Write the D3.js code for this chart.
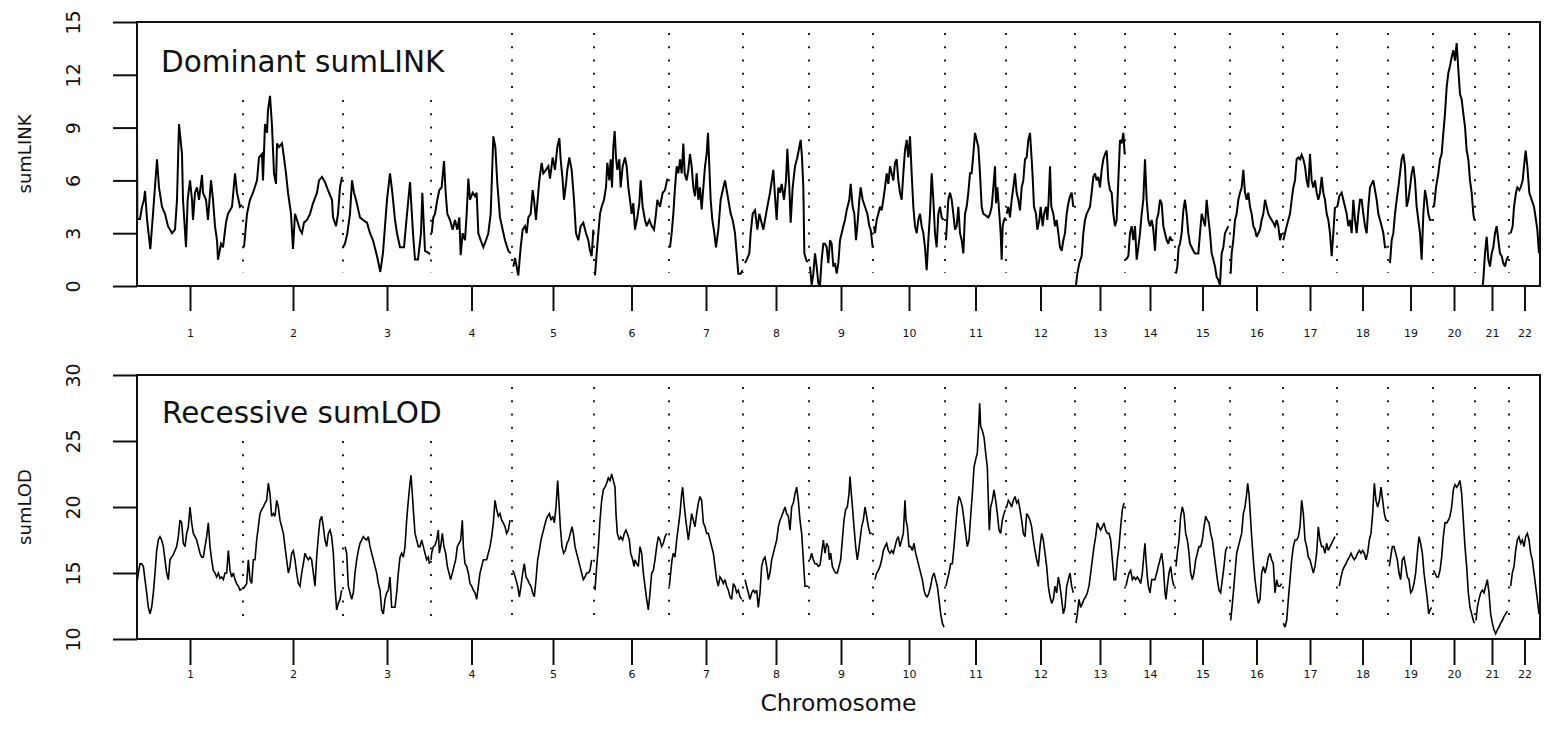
<!DOCTYPE html>
<html><head><meta charset="utf-8">
<script src="https://cdn.jsdelivr.net/npm/d3@7"></script>
<style>
body{margin:0;background:#fff}
svg{display:block}
text{font-family:"DejaVu Sans",sans-serif;fill:#111}
</style>
</head><body>
<svg id="chart" width="1545" height="729"></svg>
<script>
// ---------------- DATA ----------------
const chromosomes = ["1","2","3","4","5","6","7","8","9","10","11","12","13","14","15","16","17","18","19","20","21","22"];
// genetic length of each chromosome (cM)
const chrLengthsCM = [318,300,264,243,246,225,222,198,192,216,183,207,150,150,165,159,162,153,135,126,102,93];
const yTicksLINK = [0,3,6,9,12,15];
const yTicksLOD = [10,15,20,25,30];

// [position within chromosome (cM), sumLINK]
const dominantSumLINK = [
[[0,9.4],[1,3.8],[9,3.8],[15,4.5],[21,4.9],[24,5.4],[30,3.8],[40,2.1],[48,4.1],[60,7.2],[66,5.6],[75,4.5],[84,4.1],[93,3.4],[105,3.0],[114,3.2],[120,4.9],[126,9.2],[135,7.5],[138,4.9],[147,2.2],[152,4.9],[159,6.0],[165,4.9],[168,3.75],[174,5.3],[180,5.6],[186,4.9],[195,6.3],[198,5.3],[207,4.9],[213,3.75],[222,6.0],[228,4.9],[234,3.4],[240,2.6],[243,1.5],[252,2.4],[258,2.2],[267,3.6],[273,4.1],[285,4.5],[294,6.4],[300,5.3],[309,4.5],[315,4.6]],
[[3,2.2],[12,4.1],[21,4.9],[30,5.3],[42,6.0],[48,7.3],[57,7.5],[60,6.0],[66,9.2],[72,8.7],[75,10.0],[81,10.8],[87,9.1],[93,6.4],[99,5.8],[102,8.1],[108,7.9],[117,8.1],[123,7.3],[129,6.4],[135,5.3],[144,4.1],[150,2.1],[156,4.1],[162,3.75],[171,3.2],[177,3.0],[183,3.6],[192,3.75],[201,4.1],[210,4.7],[222,5.3],[228,6.0],[237,6.2],[246,5.9],[255,5.45],[267,4.9],[270,3.9],[279,3.4],[285,4.1],[291,5.6],[297,6.2]],
[[0,2.2],[6,2.4],[13,3.0],[21,4.1],[27,6.0],[33,5.3],[39,4.9],[51,3.9],[60,3.75],[72,3.6],[81,3.0],[90,2.6],[102,1.7],[112,0.8],[120,1.9],[126,3.4],[132,4.9],[141,6.4],[148,5.3],[156,3.75],[162,3.0],[171,2.2],[183,2.2],[192,4.1],[201,5.9],[210,3.0],[216,1.5],[225,1.5],[234,3.0],[238,5.3],[246,2.0],[255,1.9],[261,1.8]],
[[2,3.0],[7,3.9],[12,4.1],[19,4.9],[25,5.45],[32,5.6],[39,7.1],[44,5.3],[49,4.1],[57,3.75],[65,3.2],[72,3.75],[79,3.2],[85,3.9],[89,1.75],[95,3.0],[102,2.6],[107,4.1],[112,6.1],[117,4.9],[125,5.3],[132,5.1],[137,5.3],[142,3.0],[149,2.6],[157,2.2],[165,2.6],[172,3.0],[179,4.1],[187,8.5],[193,7.9],[199,5.8],[207,3.9],[215,3.2],[222,2.6],[232,2.0],[239,1.85]],
[[4,1.1],[9,1.6],[19,0.6],[26,2.2],[32,3.2],[39,3.4],[44,3.0],[49,3.9],[56,4.1],[62,5.45],[66,4.9],[72,3.75],[76,4.7],[82,6.0],[89,7.0],[94,6.4],[102,6.6],[109,6.8],[114,6.1],[122,7.3],[129,6.6],[136,7.9],[142,8.4],[146,7.2],[152,6.0],[156,4.9],[162,5.8],[166,6.6],[172,7.3],[179,6.6],[186,4.9],[192,3.0],[199,2.6],[206,3.4],[214,3.6],[222,3.0],[229,2.6],[234,2.0],[239,1.7],[244,3.2]],
[[3,0.6],[8,1.85],[13,3.0],[18,4.1],[23,4.5],[30,4.9],[36,5.6],[40,7.0],[46,6.0],[50,7.2],[54,5.6],[58,7.9],[62,8.8],[66,7.3],[70,6.6],[76,7.2],[80,5.6],[86,6.8],[93,7.3],[98,6.8],[103,5.6],[108,4.9],[113,4.1],[118,4.7],[123,3.2],[130,3.9],[136,4.7],[140,6.0],[146,4.5],[153,3.75],[158,3.4],[166,3.75],[173,3.4],[180,3.2],[186,4.1],[190,4.9],[198,4.5],[206,5.3],[213,5.45],[220,6.1]],
[[3,2.2],[8,3.0],[13,4.1],[18,5.6],[23,6.8],[28,6.4],[33,7.2],[38,6.4],[43,8.1],[47,6.4],[53,6.0],[58,6.6],[63,7.5],[68,6.8],[73,5.6],[78,5.1],[83,6.4],[88,4.9],[93,5.6],[98,4.35],[103,5.6],[108,6.8],[113,7.5],[117,8.7],[121,6.8],[125,4.9],[130,3.75],[136,3.0],[141,2.2],[148,3.2],[155,4.9],[163,5.6],[168,6.0],[173,5.45],[178,4.9],[185,4.1],[191,3.75],[198,3.0],[203,1.85],[208,0.7],[215,0.7],[221,0.9]],
[[6,1.3],[11,1.5],[19,1.85],[23,3.0],[29,4.1],[36,4.3],[43,3.2],[49,4.1],[61,3.2],[71,4.3],[81,5.3],[91,6.6],[96,5.1],[101,3.75],[106,5.6],[111,5.3],[116,5.8],[123,4.9],[129,6.0],[133,7.8],[139,5.6],[143,3.6],[149,5.6],[156,6.8],[163,7.3],[169,7.9],[173,8.3],[177,7.3],[181,5.6],[184,1.85],[191,1.4],[196,1.4]],
[[3,1.1],[8,0.05],[13,0.7],[18,1.85],[23,1.1],[28,0.15],[33,0.05],[38,1.5],[43,2.4],[48,2.4],[53,2.2],[58,1.3],[63,2.6],[68,2.4],[73,1.1],[78,1.3],[83,0.7],[88,1.3],[93,2.6],[98,3.0],[103,3.4],[108,3.75],[113,4.3],[121,4.9],[125,5.8],[131,4.5],[136,4.1],[141,2.6],[145,3.4],[151,4.9],[155,5.6],[161,4.9],[168,4.5],[175,4.1],[181,3.4],[185,3.2],[191,2.2]],
[[3,3.4],[6,3.0],[11,3.75],[16,4.1],[21,4.5],[26,4.3],[31,4.9],[36,5.6],[41,6.4],[46,5.8],[51,6.8],[56,6.4],[61,6.0],[66,7.0],[71,7.2],[76,6.0],[81,5.3],[86,4.9],[91,6.4],[96,7.7],[101,8.3],[106,7.3],[111,8.5],[116,6.4],[121,4.5],[126,3.4],[131,3.0],[136,3.75],[141,4.1],[146,3.4],[151,3.0],[156,2.2],[161,0.9],[166,2.6],[171,4.1],[176,6.4],[181,4.9],[186,3.0],[191,2.2],[196,4.1],[201,4.5],[206,3.9],[211,3.75]],
[[3,2.6],[10,4.9],[15,5.3],[20,4.9],[25,4.1],[30,3.2],[35,3.4],[40,4.5],[45,3.0],[50,2.6],[55,1.85],[60,4.1],[65,4.5],[70,5.3],[75,6.4],[80,6.4],[85,7.5],[90,8.7],[95,8.3],[100,7.9],[105,6.4],[110,4.5],[115,4.1],[123,4.0],[130,3.9],[135,4.1],[140,4.5],[145,5.6],[150,6.8],[153,4.7],[157,5.6],[163,4.1],[167,3.0],[170,1.5],[173,3.4],[177,3.75],[181,3.9]],
[[2,4.1],[7,4.5],[12,3.9],[17,4.9],[22,5.6],[27,6.4],[32,5.3],[37,4.9],[42,4.3],[47,5.6],[52,6.0],[57,7.2],[62,7.3],[67,8.3],[72,8.7],[77,7.2],[80,6.2],[84,4.5],[90,4.1],[94,3.2],[100,3.75],[104,4.5],[110,3.4],[114,4.1],[120,4.5],[124,3.75],[128,4.9],[132,6.8],[136,4.5],[142,4.1],[147,3.4],[152,3.75],[157,3.0],[162,2.2],[167,2.0],[172,2.6],[177,3.0],[182,4.1],[187,4.7],[192,5.1],[197,5.3],[202,4.5]],
[[3,0.05],[7,0.7],[13,1.3],[20,1.7],[25,3.0],[30,3.75],[35,4.1],[40,4.3],[45,4.5],[50,5.3],[55,6.2],[60,6.4],[65,6.0],[70,6.2],[75,5.6],[80,6.6],[85,7.2],[90,7.5],[95,7.7],[100,6.0],[105,5.45],[110,5.3],[115,4.1],[120,3.4],[125,3.75],[130,6.0],[135,8.3],[140,8.1],[145,8.7],[149,7.5]],
[[3,1.5],[10,1.7],[15,3.0],[20,3.4],[25,2.6],[30,3.4],[35,1.5],[40,2.2],[45,3.0],[50,4.1],[55,4.9],[60,7.2],[65,4.9],[70,3.75],[75,3.4],[80,3.75],[85,3.2],[90,2.0],[95,3.75],[100,4.1],[105,4.9],[110,4.7],[115,3.4],[120,3.0],[125,2.6],[130,2.4],[135,2.8],[140,2.6],[145,2.6]],
[[3,0.7],[7,1.1],[11,2.2],[15,2.4],[20,3.0],[25,4.3],[30,4.9],[35,4.1],[40,3.0],[45,2.4],[50,2.2],[55,2.0],[60,1.85],[65,1.85],[70,1.85],[75,3.0],[80,4.1],[85,3.75],[90,3.4],[95,4.9],[100,3.9],[105,3.0],[110,1.85],[115,1.5],[120,1.1],[125,0.5],[130,0.35],[135,0.05],[140,1.85],[145,2.2],[150,3.0],[155,3.2],[160,3.4]],
[[2,0.7],[5,1.85],[10,2.6],[15,3.75],[20,4.1],[25,4.9],[30,5.3],[35,5.6],[40,6.6],[45,5.3],[50,4.9],[55,5.3],[60,4.5],[65,4.1],[70,3.4],[75,3.2],[80,2.8],[85,3.0],[90,3.2],[95,3.75],[100,4.1],[105,4.9],[110,4.5],[115,4.1],[120,3.9],[125,3.75],[130,3.6],[135,3.4],[140,3.75],[145,3.4],[150,2.6],[155,3.0]],
[[1,2.6],[6,3.0],[11,3.4],[16,3.75],[21,4.1],[26,4.9],[31,5.6],[36,6.0],[41,7.2],[46,7.3],[51,7.2],[56,7.45],[61,7.2],[66,6.8],[71,6.0],[76,5.6],[81,7.5],[86,6.0],[91,5.6],[96,6.0],[101,5.3],[106,4.9],[111,5.3],[116,6.2],[121,5.3],[126,4.9],[131,4.1],[136,3.75],[141,3.0],[146,1.7],[151,3.0],[156,4.5]],
[[1,4.5],[7,5.1],[14,5.3],[19,4.9],[24,4.5],[29,4.1],[34,3.4],[39,3.75],[44,3.0],[49,4.9],[54,3.75],[59,3.0],[64,4.1],[69,4.9],[74,4.9],[79,4.1],[84,3.4],[89,3.0],[94,4.5],[99,5.6],[104,5.8],[109,6.0],[114,5.45],[119,4.9],[124,4.1],[129,3.75],[134,3.4],[139,3.0],[144,2.2],[149,2.2]],
[[6,1.3],[11,2.6],[16,3.0],[21,4.1],[26,4.9],[31,5.6],[36,6.4],[41,7.2],[46,7.5],[51,6.8],[56,4.5],[61,4.9],[66,5.6],[71,6.4],[76,6.8],[81,6.0],[86,4.5],[91,3.75],[96,3.0],[101,1.5],[106,4.1],[111,5.45],[116,4.9],[121,4.1],[126,3.75],[131,3.75]],
[[3,4.5],[9,5.6],[16,6.4],[21,7.2],[26,7.5],[31,8.7],[36,9.8],[41,11.3],[46,12.1],[51,12.5],[56,13.0],[61,13.4],[66,12.8],[71,13.8],[76,12.3],[81,10.9],[86,10.6],[91,9.8],[96,9.05],[101,7.7],[106,7.2],[111,6.0],[116,5.3],[121,4.1],[124,3.75]],
[[23,0.05],[25,0.35],[30,1.85],[35,2.8],[40,1.5],[45,1.1],[50,1.85],[55,2.2],[60,3.0],[65,3.4],[70,2.6],[75,1.85],[80,1.7],[85,1.3],[90,1.1],[95,1.5],[100,1.7]],
[[5,3.0],[11,3.4],[15,4.5],[21,5.3],[25,5.6],[31,5.45],[35,5.6],[41,6.0],[45,6.8],[50,7.7],[55,6.8],[61,5.3],[68,4.9],[75,4.5],[81,3.75],[85,3.2],[90,1.85]]
];

// [position within chromosome (cM), sumLOD]
const recessiveSumLOD = [
[[0,14.2],[4,15.0],[9,15.7],[14,15.7],[19,15.5],[24,14.5],[29,13.5],[34,12.4],[39,11.9],[44,12.4],[49,13.5],[54,15.0],[59,16.7],[64,17.5],[69,17.75],[74,17.5],[79,17.0],[84,16.0],[89,15.0],[94,14.5],[99,16.0],[104,16.2],[109,16.4],[114,16.7],[119,17.0],[124,17.75],[129,19.0],[134,18.8],[139,17.25],[144,17.0],[149,18.0],[154,18.5],[159,20.0],[164,18.8],[169,18.0],[174,17.75],[179,17.5],[184,17.0],[189,16.5],[194,16.2],[199,16.2],[204,17.0],[209,17.75],[214,18.8],[219,17.0],[224,16.0],[229,15.2],[234,15.0],[239,14.7],[244,15.0],[249,14.6],[254,14.7],[259,14.5],[264,15.0],[269,15.0],[274,16.7],[279,15.2],[284,14.7],[289,15.0],[294,14.5],[299,14.2],[304,14.0],[309,13.7],[314,13.8]],
[[1,13.8],[6,14.0],[11,14.2],[16,16.0],[21,14.5],[26,14.2],[31,16.0],[36,16.0],[41,17.5],[46,18.5],[51,19.5],[56,19.8],[61,20.0],[66,20.3],[71,20.5],[76,21.8],[81,21.0],[86,19.3],[91,19.5],[96,19.3],[101,20.5],[106,20.0],[111,19.0],[116,18.5],[121,18.0],[126,17.0],[131,16.0],[136,15.0],[141,15.5],[146,16.5],[151,16.7],[156,16.0],[161,15.0],[166,14.2],[171,14.0],[176,15.0],[181,15.7],[186,16.5],[191,16.2],[196,16.0],[201,16.2],[206,16.0],[211,15.0],[216,14.0],[221,16.2],[226,17.75],[231,19.0],[236,19.3],[241,18.5],[246,17.5],[251,17.0],[256,18.0],[261,18.25],[266,17.75],[271,16.5],[276,14.0],[281,12.2],[286,12.7],[291,13.0],[296,13.7]],
[[6,17.0],[11,16.5],[16,14.0],[21,13.5],[26,13.0],[31,13.5],[36,15.0],[41,16.0],[46,16.7],[51,17.25],[56,17.5],[61,17.75],[66,17.6],[71,17.5],[76,17.75],[81,17.0],[86,16.5],[91,16.0],[96,15.5],[101,15.0],[106,14.2],[111,13.7],[116,12.2],[121,11.9],[126,13.0],[131,13.5],[136,13.7],[141,14.7],[146,12.4],[151,12.4],[156,12.4],[161,13.5],[166,15.0],[171,16.2],[176,16.5],[181,16.2],[186,17.0],[191,19.0],[196,20.5],[201,21.8],[204,22.4],[208,21.0],[211,19.8],[216,18.0],[221,17.5],[226,17.0],[231,17.0],[236,17.5],[241,17.0],[246,16.5],[251,16.0],[256,16.2],[259,15.7]],
[[0,16.0],[2,16.5],[7,17.0],[12,17.1],[17,17.5],[22,18.25],[25,16.5],[29,17.0],[34,18.0],[39,17.0],[44,16.5],[49,15.5],[54,15.0],[59,14.5],[64,15.0],[69,15.5],[74,16.0],[79,17.0],[84,17.25],[89,17.5],[94,19.0],[97,17.0],[102,15.7],[107,15.5],[112,15.0],[117,14.2],[122,14.0],[127,13.7],[132,13.5],[137,13.0],[142,14.0],[147,15.0],[152,15.5],[157,16.0],[162,16.0],[167,16.0],[172,16.5],[177,17.0],[182,17.75],[187,18.8],[192,20.5],[197,19.8],[202,19.3],[207,19.5],[212,19.0],[217,18.8],[222,18.5],[227,18.0],[232,18.25],[237,19.0]],
[[2,15.2],[6,15.0],[12,14.5],[17,14.0],[22,13.2],[27,14.0],[32,15.0],[37,15.7],[42,14.7],[47,14.5],[52,14.2],[57,14.0],[62,13.5],[67,13.2],[72,14.5],[77,16.0],[82,16.7],[87,17.5],[92,18.0],[97,18.5],[102,19.0],[107,19.3],[112,19.5],[117,19.0],[122,19.3],[127,18.8],[132,20.0],[137,22.0],[141,20.3],[145,18.5],[150,17.0],[155,16.5],[160,16.7],[165,17.25],[170,17.5],[175,18.0],[180,18.5],[184,18.0],[189,17.0],[194,16.5],[199,16.0],[204,15.5],[209,15.0],[214,14.5],[219,14.7],[224,15.0],[229,15.0],[234,15.2],[239,16.0]],
[[3,13.7],[8,15.5],[13,17.0],[18,19.0],[23,20.5],[28,21.3],[33,21.5],[38,21.8],[43,22.2],[48,22.0],[53,22.5],[58,22.0],[63,21.5],[66,19.5],[70,18.0],[76,17.5],[80,17.75],[86,17.5],[91,18.0],[96,18.25],[100,18.0],[106,17.5],[110,16.5],[116,16.0],[120,15.5],[123,16.0],[128,15.7],[133,15.5],[138,17.0],[143,16.5],[148,15.0],[153,14.0],[158,13.0],[163,12.2],[168,13.5],[173,15.0],[178,15.2],[183,16.0],[188,17.0],[193,17.75],[198,17.5],[203,17.0],[208,17.25],[213,17.75],[218,18.0]],
[[1,14.0],[5,15.0],[9,16.0],[13,16.5],[18,16.2],[23,17.5],[28,18.5],[33,19.5],[38,21.0],[41,21.5],[45,20.3],[49,19.3],[53,18.5],[58,17.5],[63,18.5],[68,19.5],[73,19.0],[78,18.5],[83,19.5],[88,20.3],[93,20.8],[98,20.5],[103,18.8],[108,18.5],[113,18.0],[118,18.0],[123,17.5],[128,17.0],[133,16.5],[138,15.5],[143,14.5],[148,14.0],[153,14.7],[158,14.5],[163,14.2],[168,14.5],[173,14.0],[178,13.7],[183,13.2],[188,13.0],[193,14.2],[198,14.0],[203,13.5],[208,13.7],[213,13.2],[218,13.0]],
[[6,14.5],[11,14.0],[16,13.5],[21,13.0],[26,13.5],[31,13.7],[36,13.5],[41,13.7],[46,12.4],[51,13.5],[56,15.5],[61,16.0],[66,16.2],[71,15.5],[76,14.5],[81,15.0],[86,16.0],[91,16.5],[96,17.0],[101,17.5],[106,18.5],[111,19.0],[116,19.3],[126,20.0],[131,19.5],[136,19.3],[141,18.25],[146,20.0],[151,20.3],[156,21.0],[161,21.5],[166,20.5],[171,19.0],[176,18.0],[181,16.0],[186,14.0],[191,14.0],[196,14.0]],
[[3,16.0],[8,16.5],[13,16.0],[18,15.7],[23,15.7],[28,15.5],[33,15.6],[38,16.5],[43,17.5],[48,16.5],[53,17.25],[58,17.0],[61,16.0],[65,16.5],[70,15.5],[75,15.2],[80,15.0],[85,15.0],[90,15.5],[95,16.0],[100,17.5],[105,19.0],[110,19.8],[115,20.0],[120,21.0],[123,22.3],[127,21.0],[131,19.8],[135,18.5],[140,17.0],[145,16.0],[149,16.7],[153,17.5],[158,18.5],[163,19.0],[168,20.0],[173,19.3],[178,18.5],[183,18.0],[188,18.0]],
[[6,14.5],[11,15.0],[16,15.2],[21,15.5],[26,16.0],[31,16.7],[36,17.0],[41,17.25],[46,16.7],[51,16.5],[56,16.7],[61,16.5],[66,17.0],[71,17.5],[76,17.75],[81,17.0],[86,17.5],[91,18.0],[96,20.5],[99,19.0],[103,18.5],[108,17.0],[113,17.0],[118,16.7],[123,17.25],[128,16.5],[133,16.0],[138,15.5],[143,15.0],[148,14.5],[153,13.7],[158,13.3],[163,13.2],[168,13.5],[173,14.0],[178,14.7],[183,15.0],[188,14.5],[193,14.0],[198,13.0],[203,11.9],[208,11.2],[213,10.9]],
[[3,14.0],[7,14.5],[12,15.0],[17,15.7],[22,15.7],[27,17.0],[32,18.5],[37,20.0],[42,20.8],[47,20.5],[52,20.0],[57,19.0],[62,18.0],[67,17.0],[72,17.5],[77,19.3],[82,21.0],[87,23.0],[92,23.6],[97,24.1],[101,26.1],[104,27.85],[107,26.1],[112,25.8],[117,25.3],[122,24.1],[127,23.0],[130,20.5],[133,18.25],[137,20.0],[142,20.5],[147,21.3],[152,20.5],[157,19.5],[162,18.25],[167,18.0],[172,19.0],[177,19.5],[181,19.8]],
[[2,20.0],[7,20.5],[12,20.3],[17,20.0],[22,20.5],[27,20.8],[32,20.3],[37,20.5],[42,19.8],[47,19.0],[52,18.0],[57,17.75],[62,19.5],[67,19.3],[72,19.0],[77,18.5],[82,17.5],[87,16.7],[92,16.0],[97,15.5],[102,17.0],[107,18.0],[112,17.5],[117,16.5],[122,15.5],[127,14.0],[132,13.2],[137,12.7],[142,13.0],[147,14.0],[152,13.5],[157,14.7],[162,14.0],[167,13.0],[172,11.9],[177,12.4],[182,14.0],[187,14.5],[192,15.0],[197,14.0],[202,13.5]],
[[3,11.2],[7,11.9],[12,13.0],[17,12.4],[22,12.7],[27,13.0],[32,13.2],[37,13.5],[42,14.0],[47,15.0],[52,16.0],[57,17.0],[62,17.75],[67,18.8],[72,18.5],[77,18.25],[82,18.5],[87,18.8],[92,18.25],[97,18.0],[102,18.0],[107,17.5],[112,16.0],[117,14.5],[122,14.5],[127,16.0],[132,17.0],[137,18.5],[142,19.8],[147,20.3]],
[[3,14.0],[7,14.5],[12,15.0],[17,15.2],[22,14.5],[27,14.7],[32,14.5],[37,14.7],[42,14.5],[47,14.2],[52,15.0],[57,16.5],[60,17.25],[63,16.0],[67,14.7],[70,14.0],[75,13.5],[80,14.5],[85,14.5],[90,14.5],[95,15.0],[100,15.5],[105,16.0],[110,16.5],[115,15.5],[120,13.5],[123,13.0],[127,14.0],[132,15.0],[137,15.5],[142,14.5],[147,14.0]],
[[3,15.5],[7,16.5],[12,17.5],[17,19.3],[22,20.0],[27,19.5],[32,18.0],[37,17.5],[42,16.5],[47,15.0],[52,14.5],[57,15.0],[62,16.0],[67,16.5],[72,17.0],[77,17.0],[82,17.5],[87,18.5],[92,19.3],[97,19.0],[102,18.8],[107,18.0],[112,17.5],[117,16.5],[122,15.5],[127,14.5],[132,13.7],[137,13.5],[142,14.5],[147,15.5],[152,16.7],[157,17.0]],
[[2,11.4],[6,12.4],[10,13.5],[15,15.0],[20,16.5],[25,17.0],[30,17.5],[35,18.0],[40,19.5],[45,20.0],[50,21.0],[53,21.8],[57,21.0],[60,19.8],[65,17.75],[70,16.0],[75,14.5],[80,13.5],[85,12.7],[90,13.0],[95,15.0],[100,15.5],[105,15.0],[110,15.5],[115,16.2],[120,16.5],[125,16.0],[130,15.7],[135,13.5],[140,14.5],[145,14.0],[150,14.0],[155,14.2]],
[[1,11.2],[6,10.9],[11,11.4],[16,13.0],[21,14.5],[26,16.0],[31,17.0],[36,17.5],[41,17.5],[46,17.75],[51,18.5],[56,20.5],[61,19.5],[66,17.5],[71,17.0],[76,16.2],[81,16.0],[86,15.5],[91,15.0],[96,15.5],[101,16.5],[106,18.5],[111,17.5],[116,17.0],[121,17.0],[126,16.5],[131,17.25],[136,16.7],[141,17.0],[146,17.25],[151,17.5],[156,17.75]],
[[7,14.0],[12,14.7],[17,15.2],[22,15.5],[27,15.7],[32,16.0],[37,16.2],[42,16.5],[47,16.2],[52,16.0],[57,16.2],[62,16.5],[67,16.7],[72,16.5],[77,16.7],[82,16.5],[87,16.0],[92,16.5],[97,17.5],[102,18.0],[107,19.5],[112,21.8],[117,20.5],[122,20.0],[127,20.5],[132,21.5],[137,20.5],[142,19.5],[147,19.0],[151,19.0]],
[[4,15.5],[8,16.2],[13,17.0],[18,17.0],[23,16.5],[28,16.0],[33,15.0],[38,14.5],[43,16.0],[48,16.2],[53,15.5],[58,14.7],[63,14.5],[68,13.5],[73,13.7],[78,14.2],[83,15.0],[88,16.5],[93,17.75],[98,17.25],[103,16.5],[108,15.0],[113,14.0],[118,13.0],[122,11.9],[126,12.2],[131,12.4]],
[[1,15.2],[6,15.0],[11,14.7],[16,14.7],[21,15.2],[26,16.2],[31,17.75],[36,18.8],[41,18.8],[46,19.0],[51,19.3],[56,20.0],[61,21.3],[66,21.7],[71,21.5],[76,21.7],[81,22.0],[86,21.0],[91,19.0],[96,17.0],[101,15.5],[106,13.5],[111,12.4],[116,11.9],[121,11.4],[124,11.2]],
[[3,11.4],[7,12.4],[12,13.0],[17,13.5],[22,13.7],[27,13.5],[32,14.0],[37,14.5],[42,13.5],[47,11.9],[52,11.2],[57,10.7],[62,10.4],[67,10.7],[72,10.9],[77,11.2],[82,11.4],[87,11.7],[92,11.9],[97,12.1]],
[[5,14.0],[10,15.0],[15,15.5],[20,16.7],[25,17.5],[30,17.75],[35,17.25],[40,17.5],[45,17.0],[50,17.75],[55,18.0],[60,17.5],[65,16.5],[70,16.0],[75,15.0],[80,14.0],[85,13.0],[90,11.9]]
];

// ---------------- CHART ----------------
const svg = d3.select("#chart");
const chrStarts = [];
let acc = 0;
chrLengthsCM.forEach(l => { chrStarts.push(acc); acc += l; });
const genomeCM = acc;
const chrMids = chrLengthsCM.map((l, i) => chrStarts[i] + l / 2);

const plotLeft = 137, plotRight = 1540;
const x = d3.scaleLinear().domain([0, genomeCM]).range([plotLeft, plotRight]);

const panels = [
  { title: "Dominant sumLINK", ylabel: "sumLINK", data: dominantSumLINK, domain: [0, 15], ticks: yTicksLINK,
    top: 22, bottom: 286, xTickLen: 25, xLabelPad: 18, dotLow: 0.74, dotHigh: 14.38, dotHighShort: 10.57, lw: 2.0,
    titleX: 161, titleY: 72 },
  { title: "Recessive sumLOD", ylabel: "sumLOD", data: recessiveSumLOD, domain: [10, 30], ticks: yTicksLOD,
    top: 375, bottom: 639, xTickLen: 26, xLabelPad: 5, dotLow: 11.0, dotHigh: 29.1, dotHighShort: 25.0, lw: 1.6,
    titleX: 162, titleY: 423 }
];

panels.forEach(p => {
  const y = d3.scaleLinear().domain(p.domain).range([p.bottom, p.top]);
  const g = svg.append("g");

  // title
  const title = g.append("text").attr("x", p.titleX).attr("y", p.titleY)
    .style("font-size", "29.5px").attr("fill", "#1a1a1a").text(p.title);
  const tb = title.node().getBBox();
  const titleRight = tb.x + tb.width;

  // chromosome boundaries (dotted)
  const bounds = chrStarts.slice(1);
  g.selectAll("line.bound").data(bounds).enter().append("line")
    .attr("class", "bound")
    .attr("x1", d => x(d)).attr("x2", d => x(d))
    .attr("y1", d => x(d) < titleRight + 5 ? y(p.dotHighShort) : y(p.dotHigh))
    .attr("y2", y(p.dotLow))
    .attr("stroke", "#222").attr("stroke-width", 2)
    .attr("stroke-dasharray", "2 11.3");

  // data lines per chromosome
  const line = d3.line();
  p.data.forEach((pts, i) => {
    g.append("path")
      .attr("d", line(pts.map(d => [x(chrStarts[i] + d[0]), y(d[1])])))
      .attr("fill", "none").attr("stroke", "#000")
      .attr("stroke-width", p.lw).attr("stroke-linejoin", "miter").attr("stroke-miterlimit", 3);
  });

  // box
  g.append("rect").attr("x", plotLeft).attr("y", p.top)
    .attr("width", plotRight - plotLeft).attr("height", p.bottom - p.top)
    .attr("fill", "none").attr("stroke", "#111").attr("stroke-width", 2);

  // y axis
  const gy = g.append("g").attr("transform", `translate(${plotLeft},0)`)
    .call(d3.axisLeft(y).tickValues(p.ticks).tickSize(24).tickSizeOuter(0).tickPadding(0));
  gy.select(".domain").remove();
  gy.selectAll(".tick line").attr("stroke", "#111").attr("stroke-width", 2);
  gy.selectAll(".tick text")
    .attr("transform", "rotate(-90)").attr("x", 0).attr("y", -64).attr("dy", "0.35em")
    .attr("text-anchor", "middle")
    .style("font-size", "19px").style("font-family", "'DejaVu Sans',sans-serif").attr("fill", "#222");

  // y label
  g.append("text")
    .attr("transform", `translate(25,${(p.top + p.bottom) / 2}) rotate(-90)`)
    .attr("text-anchor", "middle").attr("dy", "0.35em")
    .style("font-size", "18px").attr("fill", "#222").text(p.ylabel);

  // x axis (chromosome midpoints)
  const gx = g.append("g").attr("transform", `translate(0,${p.bottom})`)
    .call(d3.axisBottom(x).tickValues(chrMids).tickFormat((d, i) => chromosomes[i])
      .tickSize(p.xTickLen).tickSizeOuter(0).tickPadding(p.xLabelPad));
  gx.select(".domain").remove();
  gx.selectAll(".tick line").attr("stroke", "#111").attr("stroke-width", 2);
  gx.selectAll(".tick text").style("font-size", "11px")
    .style("font-family", "'DejaVu Sans',sans-serif").attr("fill", "#555");
});

svg.append("text").attr("x", (plotLeft + plotRight) / 2).attr("y", 711)
  .attr("text-anchor", "middle").style("font-size", "23.5px").attr("fill", "#1a1a1a").text("Chromosome");
</script>
</body></html>
